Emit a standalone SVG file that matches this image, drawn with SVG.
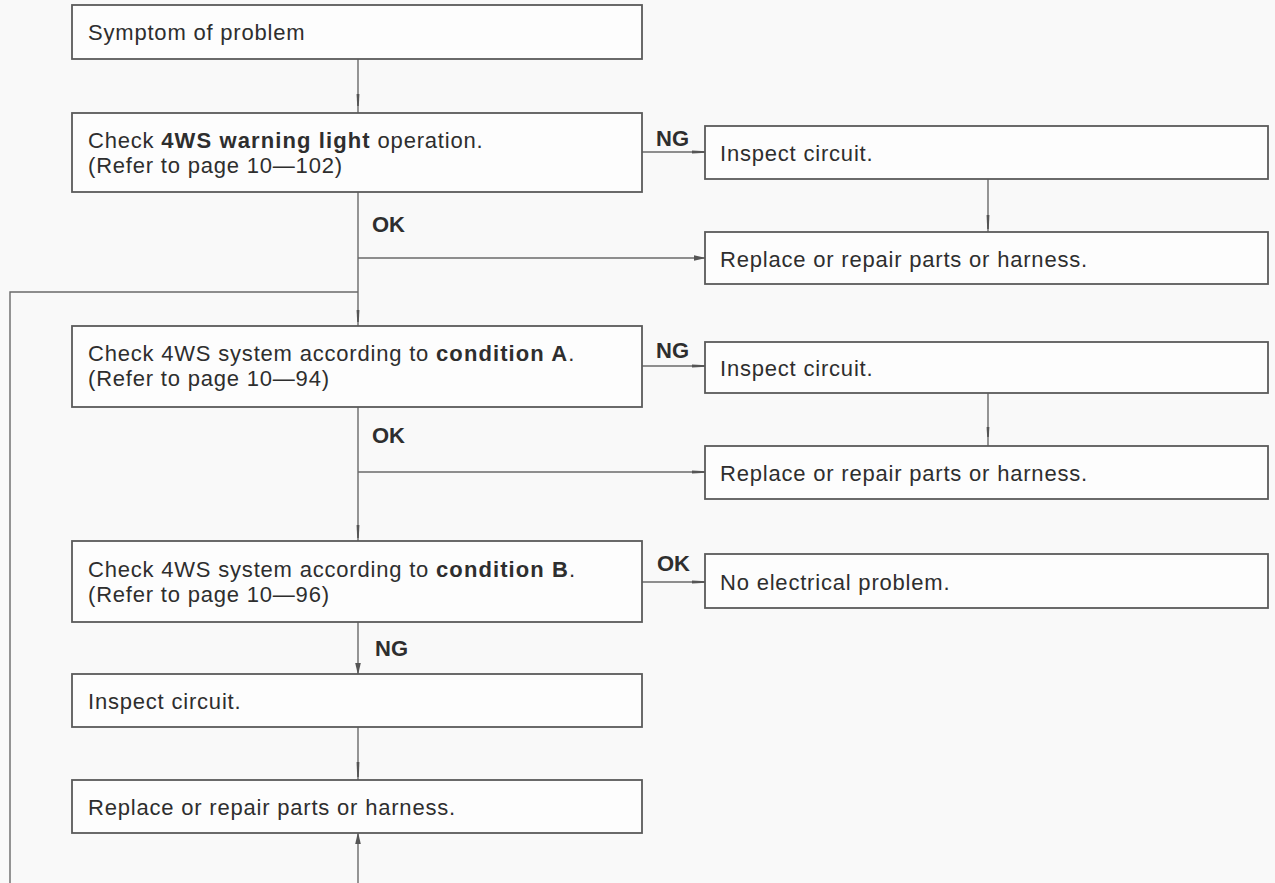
<svg xmlns="http://www.w3.org/2000/svg" width="1275" height="883" viewBox="0 0 1275 883">
  <style>
    .box { fill: #fdfdfd; stroke: #5a5a5a; stroke-width: 1.8; }
    .t { font-family: "Liberation Sans", Arial, sans-serif; font-size: 22px; letter-spacing: 0.8px; fill: #2e2e2e; }
    .b { font-weight: bold; letter-spacing: 1.1px; }
    .lbl { font-family: "Liberation Sans", Arial, sans-serif; font-size: 22px; font-weight: bold; fill: #2e2e2e; }
    .ln { fill: none; stroke: #6a6a6a; stroke-width: 1.4; }
    .tick { fill: #555; }
  </style>
  <defs>
    <!-- full arrowhead -->
    <marker id="arr" markerWidth="12" markerHeight="8" refX="11" refY="4" orient="auto" markerUnits="userSpaceOnUse">
      <path d="M0,1.2 L12,4 L0,6.8 Z" fill="#555"/>
    </marker>
    <!-- slim arrowhead, printed as a short heavy dash -->
    <marker id="slim" markerWidth="14" markerHeight="6" refX="13" refY="3" orient="auto" markerUnits="userSpaceOnUse">
      <path d="M0,1.6 L14,2.2 L14,3.8 L0,4.4 Z" fill="#555"/>
    </marker>
  </defs>
  <rect width="1275" height="883" fill="#f9f9f9"/>

  <!-- connectors -->
  <g id="connectors">
    <line class="ln" x1="358" y1="59" x2="358" y2="113"/>
    <line class="ln" x1="642" y1="152" x2="705" y2="152" marker-end="url(#slim)"/>
    <line class="ln" x1="988" y1="179" x2="988" y2="232"/>
    <line class="ln" x1="358" y1="192" x2="358" y2="326"/>
    <line class="ln" x1="358" y1="258" x2="705" y2="258" marker-end="url(#arr)"/>
    <polyline class="ln" points="358,292 10,292 10,883"/>
    <line class="ln" x1="642" y1="366" x2="705" y2="366" marker-end="url(#slim)"/>
    <line class="ln" x1="988" y1="393" x2="988" y2="446"/>
    <line class="ln" x1="358" y1="407" x2="358" y2="541"/>
    <line class="ln" x1="358" y1="472" x2="705" y2="472" marker-end="url(#slim)"/>
    <line class="ln" x1="642" y1="582" x2="705" y2="582" marker-end="url(#slim)"/>
    <line class="ln" x1="358" y1="622" x2="358" y2="674" marker-end="url(#arr)"/>
    <line class="ln" x1="358" y1="727" x2="358" y2="780"/>
    <line class="ln" x1="358" y1="883" x2="358" y2="833" marker-end="url(#arr)"/>
    <!-- short heavy marks along the vertical runs -->
    <path class="tick" d="M356.6,94 L359.4,94 L358.8,106 L357.2,106 Z"/>
    <path class="tick" d="M986.6,215 L989.4,215 L988.8,229 L987.2,229 Z"/>
    <path class="tick" d="M356.6,310 L359.4,310 L358.8,322 L357.2,322 Z"/>
    <path class="tick" d="M986.6,427 L989.4,427 L988.8,437 L987.2,437 Z"/>
    <path class="tick" d="M356.6,525 L359.4,525 L358.8,538 L357.2,538 Z"/>
    <path class="tick" d="M356.6,762 L359.4,762 L358.8,777 L357.2,777 Z"/>
    <text class="lbl" x="656" y="146">NG</text>
    <text class="lbl" x="372" y="232">OK</text>
    <text class="lbl" x="656" y="358">NG</text>
    <text class="lbl" x="372" y="443">OK</text>
    <text class="lbl" x="657" y="571">OK</text>
    <text class="lbl" x="375" y="656">NG</text>
  </g>

  <g id="symptom">
    <rect class="box" x="72" y="5" width="570" height="54"/>
    <text class="t" x="88" y="40">Symptom of problem</text>
  </g>
  <g id="check-warning-light">
    <rect class="box" x="72" y="113" width="570" height="79"/>
    <text class="t" x="88" y="148">Check <tspan class="b">4WS warning light</tspan> operation.</text>
    <text class="t" x="88" y="173">(Refer to page 10—102)</text>
  </g>
  <g id="inspect-1">
    <rect class="box" x="705" y="126" width="563" height="53"/>
    <text class="t" x="720" y="161">Inspect circuit.</text>
  </g>
  <g id="repair-1">
    <rect class="box" x="705" y="232" width="563" height="52"/>
    <text class="t" x="720" y="267">Replace or repair parts or harness.</text>
  </g>
  <g id="check-condition-a">
    <rect class="box" x="72" y="326" width="570" height="81"/>
    <text class="t" x="88" y="361">Check 4WS system according to <tspan class="b">condition A</tspan>.</text>
    <text class="t" x="88" y="386">(Refer to page 10—94)</text>
  </g>
  <g id="inspect-2">
    <rect class="box" x="705" y="342" width="563" height="51"/>
    <text class="t" x="720" y="376">Inspect circuit.</text>
  </g>
  <g id="repair-2">
    <rect class="box" x="705" y="446" width="563" height="53"/>
    <text class="t" x="720" y="481">Replace or repair parts or harness.</text>
  </g>
  <g id="check-condition-b">
    <rect class="box" x="72" y="541" width="570" height="81"/>
    <text class="t" x="88" y="577">Check 4WS system according to <tspan class="b">condition B</tspan>.</text>
    <text class="t" x="88" y="602">(Refer to page 10—96)</text>
  </g>
  <g id="no-problem">
    <rect class="box" x="705" y="554" width="563" height="54"/>
    <text class="t" x="720" y="590">No electrical problem.</text>
  </g>
  <g id="inspect-3">
    <rect class="box" x="72" y="674" width="570" height="53"/>
    <text class="t" x="88" y="709">Inspect circuit.</text>
  </g>
  <g id="repair-3">
    <rect class="box" x="72" y="780" width="570" height="53"/>
    <text class="t" x="88" y="815">Replace or repair parts or harness.</text>
  </g>
</svg>
